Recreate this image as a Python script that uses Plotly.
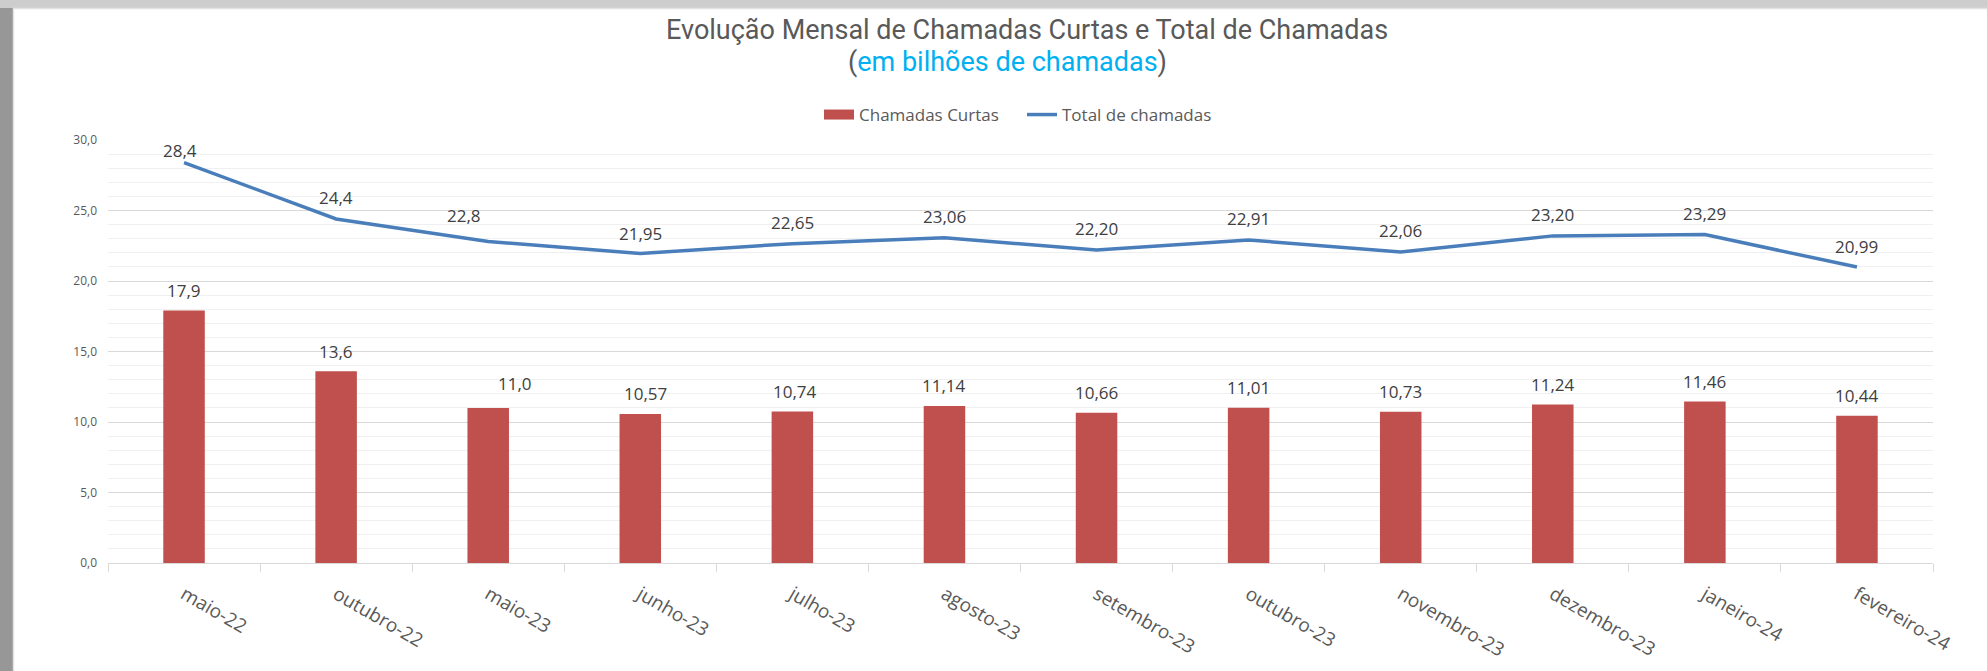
import plotly.graph_objects as go

# ---- data ----
months = ["maio-22", "outubro-22", "maio-23", "junho-23", "julho-23", "agosto-23",
          "setembro-23", "outubro-23", "novembro-23", "dezembro-23", "janeiro-24", "fevereiro-24"]
curtas = [17.9, 13.6, 11.0, 10.57, 10.74, 11.14, 10.66, 11.01, 10.73, 11.24, 11.46, 10.44]
total = [28.4, 24.4, 22.8, 21.95, 22.65, 23.06, 22.20, 22.91, 22.06, 23.20, 23.29, 20.99]
curtas_labels = ["17,9", "13,6", "11,0", "10,57", "10,74", "11,14", "10,66", "11,01",
                 "10,73", "11,24", "11,46", "10,44"]
total_labels = ["28,4", "24,4", "22,8", "21,95", "22,65", "23,06", "22,20", "22,91",
                "22,06", "23,20", "23,29", "20,99"]
y_ticks = [0, 5, 10, 15, 20, 25, 30]

# label nudges (pixels), as placed in the original chart
curtas_dx = [0, 0, 27, 5, 3, 0, 0, 0, 0, 0, 0, 0]
curtas_dy = [20, 20, 24, 20, 20, 20, 20, 20, 20, 20, 20, 20]
total_dx = [-4, 0, -24, 0, 0, 0, 0, 0, 0, 0, 0, 0]
total_dy = [12, 21, 26, 20, 21, 21, 21, 21, 21, 21, 21, 21]

W, H = 1987, 671
L, R, T, B = 108, 1933, 140, 563
PW, PH = R - L, B - T

def px_x(x):
    return (x - L) / PW

def px_y(y):
    return (B - y) / PH

BAR_COLOR = "#C0504D"
LINE_COLOR = "#4A7EBB"
TXT = "#595959"
LBL = "#404040"
BODY_FONT = "Open Sans, Lato, sans-serif"
TITLE_FONT = "Roboto, Liberation Sans Narrow, sans-serif"

fig = go.Figure()
fig.add_trace(go.Bar(x=months, y=curtas, name="Chamadas Curtas", showlegend=False,
                     legendgroup="curtas",
                     marker=dict(color=BAR_COLOR, line=dict(width=0))))
# legend proxy giving the wide red swatch used by the original legend
fig.add_trace(go.Scatter(x=[None], y=[None], name="Chamadas Curtas", mode="lines",
                         legendgroup="curtas", hoverinfo="skip",
                         line=dict(color=BAR_COLOR, width=10)))
fig.add_trace(go.Scatter(x=months, y=total, name="Total de chamadas", mode="lines",
                         line=dict(color=LINE_COLOR, width=3.5)))

annotations = []
for m, v, t, dx, dy in zip(months, curtas, curtas_labels, curtas_dx, curtas_dy):
    annotations.append(dict(x=m, y=v, text=t, showarrow=False, xshift=dx, yshift=dy,
                            yanchor="middle", font=dict(family=BODY_FONT, size=17, color=LBL)))
for m, v, t, dx, dy in zip(months, total, total_labels, total_dx, total_dy):
    annotations.append(dict(x=m, y=v, text=t, showarrow=False, xshift=dx, yshift=dy,
                            yanchor="middle", font=dict(family=BODY_FONT, size=17, color=LBL)))

# title
annotations.append(dict(xref="paper", yref="paper", x=px_x(1027), y=px_y(30),
                        text="Evolução Mensal de Chamadas Curtas e Total de Chamadas",
                        showarrow=False, xanchor="center", yanchor="middle",
                        font=dict(family=TITLE_FONT, size=27, color=TXT)))
annotations.append(dict(xref="paper", yref="paper", x=px_x(1007), y=px_y(62),
                        text="(<span style='color:#00B0F0'>em bilhões de chamadas</span>)",
                        showarrow=False, xanchor="center", yanchor="middle",
                        font=dict(family=TITLE_FONT, size=27, color=TXT)))

shapes = [
    # frame: left and top strips
    dict(type="rect", xref="paper", yref="paper", x0=px_x(0), x1=px_x(13),
         y0=px_y(H), y1=px_y(0), fillcolor="#979797", line=dict(width=0), layer="below"),
    dict(type="rect", xref="paper", yref="paper", x0=px_x(0), x1=px_x(W),
         y0=px_y(8), y1=px_y(0), fillcolor="#CDCDCD", line=dict(width=0), layer="below"),
    dict(type="line", xref="paper", yref="paper", x0=px_x(13.5), x1=px_x(13.5),
         y0=px_y(H), y1=px_y(8), line=dict(color="#E2E2E2", width=1.5), layer="below"),
    dict(type="line", xref="paper", yref="paper", x0=px_x(13), x1=px_x(W),
         y0=px_y(8.5), y1=px_y(8.5), line=dict(color="#E2E2E2", width=1.5), layer="below"),
]

fig.update_layout(
    width=W, height=H,
    margin=dict(l=L, r=W - R, t=T, b=H - B, pad=0, autoexpand=False),
    paper_bgcolor="white", plot_bgcolor="white",
    separators=", ",
    bargap=0.727,
    showlegend=True,
    legend=dict(orientation="h", x=px_x(1022), xanchor="center", y=px_y(115), yanchor="middle",
                font=dict(family=BODY_FONT, size=17, color=TXT), itemwidth=30,
                entrywidth=158, entrywidthmode="pixels",
                traceorder="normal", bgcolor="rgba(0,0,0,0)"),
    annotations=annotations,
    shapes=shapes,
    xaxis=dict(type="category", showline=True, linecolor="#D9D9D9", linewidth=1,
               ticks="outside", tickson="boundaries", ticklen=8, tickcolor="#D9D9D9",
               tickangle=30, showgrid=False, automargin=False, ticklabelstandoff=12,
               tickfont=dict(family=BODY_FONT, size=19, color=TXT)),
    yaxis=dict(range=[0, 30], tickvals=y_ticks, tickformat=".1f", showgrid=True,
               gridcolor="#D9D9D9", gridwidth=1, zeroline=False, showline=False,
               ticks="", ticklabelstandoff=10, automargin=False,
               minor=dict(dtick=1, showgrid=True, gridcolor="#F0F0F0", gridwidth=1),
               tickfont=dict(family=BODY_FONT, size=12, color=TXT)),
)

fig.write_html("out.html", config={"displayModeBar": False},
               post_script="document.body.style.margin='0';document.body.style.overflow='hidden';")
